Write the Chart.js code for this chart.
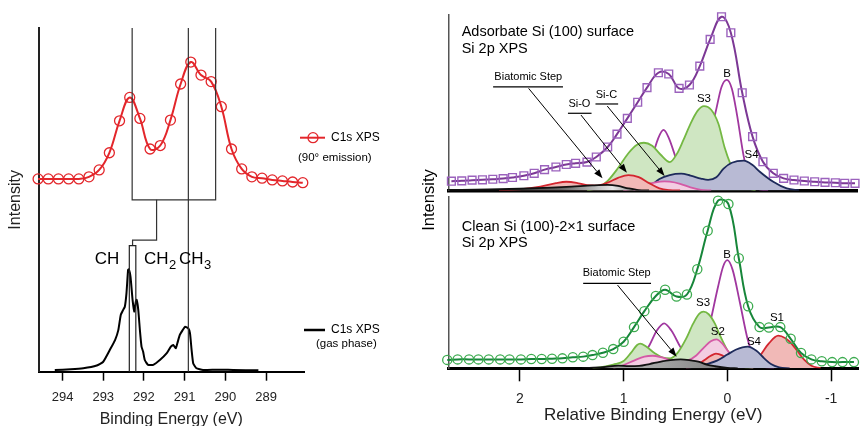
<!DOCTYPE html>
<html>
<head>
<meta charset="utf-8">
<script src="https://cdn.jsdelivr.net/npm/chart.js@4/dist/chart.umd.min.js"></script>
<style>
html,body{margin:0;padding:0;background:#fff;overflow:hidden;width:864px;height:426px;}
canvas{position:absolute;}
#cL{left:0;top:0;}
#cBR{left:420px;top:190px;}
#cTR{left:420px;top:0;}
</style>
</head>
<body>
<canvas id="cL" width="420" height="426"></canvas>
<canvas id="cBR" width="444" height="236"></canvas>
<canvas id="cTR" width="444" height="426"></canvas>
<script>
// ---------------- LEFT PANEL DATA (C1s XPS) ----------------
const leftTickValues = [289, 290, 291, 292, 293, 294];
const c1sEmissionEnergy = [294.6, 294.35, 294.1, 293.85, 293.6, 293.35, 293.1, 292.85, 292.6, 292.35, 292.1, 291.85, 291.6, 291.35, 291.1, 290.85, 290.6, 290.35, 290.1, 289.85, 289.6, 289.35, 289.1, 288.85, 288.6, 288.35, 288.1];
const c1sEmissionIntensity = [56.1, 56.1, 56.1, 56.1, 56.1, 56.7, 58.7, 63.7, 73.0, 79.8, 73.7, 64.8, 65.8, 73.2, 83.7, 90.1, 86.3, 84.4, 77.1, 64.8, 59.0, 56.7, 56.3, 55.8, 55.5, 55.2, 55.0];
const gasEnergy = [294.19, 293.8, 293.49, 293.16, 293.00, 292.84, 292.71, 292.63, 292.57, 292.51, 292.47, 292.43, 292.39, 292.37, 292.33, 292.28, 292.24, 292.20, 292.18, 292.14, 292.10, 292.06, 292.02, 291.98, 291.90, 291.77, 291.61, 291.44, 291.34, 291.28, 291.22, 291.18, 291.12, 291.05, 290.99, 290.91, 290.87, 290.83, 290.79, 290.71, 290.55, 290.2, 289.81, 289.19];
const gasIntensity = [0.5, 0.7, 1.0, 1.8, 2.9, 6.3, 9.2, 12.1, 16.5, 18.0, 18.9, 22.8, 29.6, 29.8, 27.6, 20.9, 17.5, 20.4, 20.9, 18.0, 12.1, 7.3, 5.8, 3.4, 2.0, 2.0, 3.4, 5.4, 7.3, 7.8, 6.8, 8.3, 10.7, 12.1, 13.1, 12.6, 11.2, 6.3, 2.4, 1.0, 0.5, 0.6, 0.5, 0.4];
// peak-assignment guide lines (energy, intensity)
const guideEnergies = [292.29, 290.24, 290.91, 291.69, 292.28, 292.36, 292.20];
const guideLevels = [100, 50, 38.3, 36.7, 0];

// ---------------- RIGHT PANEL DATA (Si 2p XPS) ----------------
const rightTickValues = [-1, 0, 1, 2];
// Adsorbate surface: measured points
const adsEnergy = [2.66, 2.56, 2.46, 2.36, 2.26, 2.16, 2.07, 1.96, 1.86, 1.76, 1.65, 1.55, 1.46, 1.35, 1.26, 1.15, 1.06, 0.96, 0.86, 0.77, 0.66, 0.56, 0.46, 0.36, 0.26, 0.16, 0.05, -0.04, -0.15, -0.25, -0.35, -0.45, -0.55, -0.65, -0.75, -0.85, -0.95, -1.05, -1.14, -1.24];
const adsIntensity = [5.3, 5.5, 5.9, 6.1, 6.4, 6.8, 7.4, 8.4, 9.8, 11.9, 13.4, 14.8, 15.5, 16.2, 19.1, 24.8, 32.1, 41.1, 50.3, 58.6, 67.1, 66.4, 58.2, 60.1, 70.9, 86.1, 99.0, 89.9, 55.7, 30.7, 16.4, 9.8, 6.9, 6.0, 5.4, 5.0, 4.6, 4.4, 4.1, 4.1];
// Adsorbate components
const adsBEnergy = [0.90, 0.80, 0.72, 0.66, 0.61, 0.56, 0.50, 0.44, 0.38, 0.30, 0.22, 0.16, 0.11, 0.05, 0.0, -0.05, -0.10, -0.165, -0.22, -0.30, -0.40];
const adsBIntensity = [0, 5, 19, 30, 34.5, 30, 20, 9, 3, 4, 20, 33, 44, 59, 63, 58, 43, 19.3, 7, 1, 0];
const adsS3Energy = [1.35, 1.25, 1.15, 1.05, 0.95, 0.87, 0.80, 0.72, 0.64, 0.55, 0.48, 0.42, 0.35, 0.28, 0.22, 0.15, 0.08, 0.02, -0.04, -0.10, -0.18, -0.28];
const adsS3Intensity = [0, 1.5, 5.5, 12.8, 21.2, 25.9, 27.2, 25.5, 20.5, 16.2, 21.0, 28.5, 38.0, 45.5, 48.1, 46.0, 38.0, 24.5, 14.5, 7.0, 2.0, 0];
const adsS4Energy = [0.85, 0.75, 0.65, 0.55, 0.44, 0.35, 0.25, 0.18, 0.10, 0.03, -0.05, -0.165, -0.25, -0.32, -0.45, -0.58, -0.70];
const adsS4Intensity = [0, 2, 6.5, 8.8, 9.6, 8.5, 6.8, 6.0, 7.5, 12.5, 15.8, 17.0, 14.5, 10.7, 5.0, 1.2, 0];
const adsSiCEnergy = [1.0, 0.9, 0.8, 0.7, 0.6, 0.55, 0.45, 0.35, 0.25, 0.15];
const adsSiCIntensity = [0, 1.2, 3.0, 4.5, 5.2, 5.0, 3.8, 1.8, 0.4, 0];
const adsSiOEnergy = [2.2, 2.0, 1.8, 1.65, 1.55, 1.45, 1.35, 1.25, 1.15, 1.05, 0.95, 0.85, 0.75, 0.65, 0.55, 0.45];
const adsSiOIntensity = [0, 0.6, 2.2, 4.2, 5.0, 4.4, 3.0, 2.8, 4.5, 7.2, 8.8, 7.6, 4.2, 1.2, 0.2, 0];
const adsStepEnergy = [2.7, 2.3, 2.0, 1.7, 1.5, 1.3, 1.15, 1.05, 0.95, 0.85, 0.75];
const adsStepIntensity = [0.3, 0.6, 1.0, 1.6, 2.2, 2.9, 3.2, 2.6, 1.2, 0.2, 0];

// Clean surface: measured points
const cleanEnergy = [2.70, 2.60, 2.49, 2.40, 2.30, 2.19, 2.10, 1.99, 1.89, 1.79, 1.69, 1.59, 1.49, 1.39, 1.30, 1.20, 1.10, 1.00, 0.90, 0.80, 0.69, 0.60, 0.49, 0.39, 0.29, 0.19, 0.09, -0.01, -0.11, -0.20, -0.31, -0.40, -0.51, -0.61, -0.71, -0.81, -0.91, -1.01, -1.11, -1.22];
const cleanIntensity = [4.9, 5.2, 5.2, 5.2, 5.2, 5.2, 5.2, 5.2, 5.4, 5.4, 5.6, 5.8, 6.4, 6.8, 7.7, 9.1, 11.2, 15.5, 24.0, 33.3, 42.1, 45.8, 41.8, 43.0, 57.7, 80.2, 97.7, 95.7, 64.1, 36.2, 24.0, 23.8, 24.0, 17.2, 8.9, 5.2, 4.1, 3.6, 3.6, 3.6];
// Clean components
const cleanBEnergy = [0.95, 0.85, 0.75, 0.68, 0.61, 0.54, 0.455, 0.38, 0.30, 0.22, 0.155, 0.09, 0.04, 0.0, -0.05, -0.12, -0.196, -0.26, -0.35, -0.45];
const cleanBIntensity = [0.5, 4.5, 13.6, 22, 26.2, 22, 12.6, 5, 4, 12, 29.5, 47.5, 59.5, 63, 57.5, 38.5, 16.8, 6, 1, 0];
const cleanS3Energy = [1.30, 1.20, 1.10, 1.00, 0.93, 0.87, 0.84, 0.78, 0.70, 0.62, 0.55, 0.48, 0.40, 0.33, 0.27, 0.23, 0.18, 0.12, 0.07, 0.0, -0.08, -0.15, -0.25];
const cleanS3Intensity = [0, 0.8, 2.2, 4.2, 9.0, 13.6, 14.4, 12.5, 8.8, 6.2, 5.8, 9.0, 17.0, 26.0, 31.8, 33.0, 31.5, 26.0, 19.0, 10.5, 4.0, 1.0, 0];
const cleanS2Energy = [1.10, 1.00, 0.90, 0.80, 0.72, 0.64, 0.55, 0.455, 0.38, 0.30, 0.22, 0.16, 0.105, 0.05, -0.01, -0.06, -0.105, -0.16, -0.25];
const cleanS2Intensity = [0, 1.9, 4.5, 6.8, 7.3, 6.5, 4.8, 3.9, 4.6, 7.5, 12.5, 15.8, 16.9, 14.5, 9.7, 6.2, 3.9, 1.5, 0];
const cleanS1Energy = [0.40, 0.30, 0.22, 0.16, 0.11, 0.05, -0.02, -0.10, -0.18, -0.25, -0.32, -0.40, -0.49, -0.56, -0.60, -0.67, -0.74, -0.81, -0.90];
const cleanS1Intensity = [0, 1.5, 4.8, 7.3, 8.5, 7.5, 4.5, 1.5, 0.8, 2.0, 7.75, 14.5, 19.0, 17.5, 15.5, 10.5, 5.0, 1.5, 0];
const cleanS4Energy = [0.40, 0.30, 0.20, 0.10, 0.0, -0.08, -0.196, -0.28, -0.355, -0.42, -0.50, -0.60];
const cleanS4Intensity = [0, 1.0, 2.5, 4.5, 8.0, 10.8, 12.6, 10.2, 5.8, 2.5, 0.6, 0];
const cleanStepEnergy = [1.40, 1.20, 1.05, 0.95, 0.85, 0.75, 0.65, 0.55, 0.45, 0.35, 0.28, 0.20, 0.12, 0.0, -0.10];
const cleanStepIntensity = [0, 0.6, 1.6, 1.3, 1.4, 2.5, 3.8, 4.8, 5.2, 4.6, 3.9, 2.2, 1.2, 0.2, 0];

// ---------------- helpers ----------------
const FONT = "'Liberation Sans', Arial, Helvetica, sans-serif";
Chart.defaults.font.family = FONT;
Chart.defaults.color = '#222';
const pairs = (xs, ys) => xs.map((x, i) => ({x: x, y: ys[i]}));

function overlay(id, items) {
  return {
    id: id,
    afterDatasetsDraw(chart) {
      const ctx = chart.ctx, sx = chart.scales.x, sy = chart.scales.y;
      const pt = (p, px) => px ? p : [sx.getPixelForValue(p[0]), sy.getPixelForValue(p[1])];
      items.forEach(it => {
        ctx.save();
        ctx.strokeStyle = it.color || '#000';
        ctx.fillStyle = it.color || '#000';
        ctx.lineWidth = it.width || 1;
        if (it.kind === 'path') {
          ctx.beginPath();
          it.pts.forEach((p, i) => { const q = pt(p, it.px); if (i) ctx.lineTo(q[0], q[1]); else ctx.moveTo(q[0], q[1]); });
          ctx.stroke();
        } else if (it.kind === 'arrow') {
          const a1 = pt(it.from, it.px), a2 = pt(it.to, it.px);
          const a = Math.atan2(a2[1] - a1[1], a2[0] - a1[0]), L = 9, W = 3.3;
          const bx = a2[0] - L * Math.cos(a), by = a2[1] - L * Math.sin(a);
          ctx.beginPath(); ctx.moveTo(a1[0], a1[1]); ctx.lineTo(bx, by); ctx.stroke();
          ctx.beginPath(); ctx.moveTo(a2[0], a2[1]);
          ctx.lineTo(bx - W * Math.sin(a), by + W * Math.cos(a));
          ctx.lineTo(bx + W * Math.sin(a), by - W * Math.cos(a));
          ctx.closePath(); ctx.fill();
        } else if (it.kind === 'text') {
          const q = pt(it.at, it.px);
          ctx.font = it.size + 'px ' + FONT;
          ctx.textAlign = it.align || 'center';
          ctx.textBaseline = 'middle';
          ctx.translate(q[0], q[1]);
          if (it.rotate) ctx.rotate(it.rotate);
          ctx.fillText(it.text, 0, 0);
        } else if (it.kind === 'chem') {
          const q = pt(it.at, it.px);
          let x = q[0];
          ctx.textAlign = 'left'; ctx.textBaseline = 'middle';
          it.parts.forEach(part => {
            ctx.font = (part.sub ? it.subSize : it.size) + 'px ' + FONT;
            ctx.fillText(part.t, x, q[1] + (part.sub ? it.subShift : 0));
            x += ctx.measureText(part.t).width + 0.5;
          });
        } else if (it.kind === 'circle') {
          const q = pt(it.at, it.px);
          ctx.beginPath(); ctx.arc(q[0], q[1], it.r, 0, Math.PI * 2); ctx.stroke();
        }
        ctx.restore();
      });
    }
  };
}

function stepGradient(stops) {
  return function (c) {
    const ch = c.chart;
    if (!ch.chartArea || !ch.scales.x) return stops[1][1];
    const x0 = ch.scales.x.getPixelForValue(stops[0][0]);
    const x1 = ch.scales.x.getPixelForValue(stops[stops.length - 1][0]);
    const g = ch.ctx.createLinearGradient(x0, 0, x1, 0);
    stops.forEach(s => g.addColorStop((ch.scales.x.getPixelForValue(s[0]) - x0) / (x1 - x0), s[1]));
    return g;
  };
}

function comp(label, xs, ys, line, fill, order) {
  return { label: label, data: pairs(xs, ys), borderColor: line, backgroundColor: fill,
           fill: fill ? 'origin' : false, borderWidth: 1.8, pointRadius: 0,
           cubicInterpolationMode: 'monotone', order: order };
}

const baseOpts = { responsive: false, animation: false, devicePixelRatio: 1,
  plugins: { legend: { display: false }, tooltip: { enabled: false } } };

// ---------------- LEFT CHART ----------------
const gL = guideEnergies, lv = guideLevels;
new Chart(document.getElementById('cL'), {
  type: 'line',
  data: { datasets: [
    { label: 'C1s XPS (90° emission)', data: pairs(c1sEmissionEnergy, c1sEmissionIntensity),
      borderColor: '#e3262b', borderWidth: 2, tension: 0.4, pointRadius: 5, pointBorderWidth: 1.3,
      pointBorderColor: '#e3262b', pointBackgroundColor: 'rgba(255,255,255,0)', clip: false },
    { label: 'C1s XPS (gas phase)', data: pairs(gasEnergy, gasIntensity),
      borderColor: '#000', borderWidth: 2, tension: 0.15, pointRadius: 0 }
  ]},
  options: Object.assign({}, baseOpts, {
    layout: { padding: { left: 0, top: 28, right: 116, bottom: 0 } },
    scales: {
      x: { type: 'linear', reverse: true, min: 288.07, max: 294.59,
        afterBuildTicks: s => { s.ticks = leftTickValues.map(v => ({ value: v })); },
        afterFit: s => { s.height = 54.3; },
        ticks: { font: { size: 13 }, color: '#222', padding: 9 },
        grid: { display: true, drawOnChartArea: false, drawTicks: true, tickLength: 9, tickColor: '#000', tickWidth: 1.5 },
        border: { display: true, color: '#000', width: 2 },
        title: { display: true, text: 'Binding Energy (eV)', font: { size: 16, lineHeight: 1 }, color: '#222', padding: { top: 0, bottom: -2 } } },
      y: { min: 0, max: 100, ticks: { display: false }, grid: { display: false },
        border: { display: true, color: '#222', width: 2 },
        afterFit: s => { s.width = 38.5; },
        title: { display: true, text: 'Intensity', font: { size: 16, lineHeight: 1 }, color: '#222', padding: { top: 8, bottom: 0 } } }
    }
  }),
  plugins: [overlay('leftNotes', [
    { kind: 'path', color: '#333', width: 1.2, pts: [[gL[0], lv[0]], [gL[0], lv[1]], [gL[1], lv[1]], [gL[1], lv[0]]] },
    { kind: 'path', color: '#333', width: 1.2, pts: [[gL[2], lv[0]], [gL[2], lv[4]]] },
    { kind: 'path', color: '#333', width: 1.2, pts: [[gL[3], lv[1]], [gL[3], lv[2]], [gL[4], lv[2]], [gL[4], lv[3]]] },
    { kind: 'path', color: '#222', width: 1.2, pts: [[gL[5], lv[4]], [gL[5], lv[3]], [gL[6], lv[3]], [gL[6], lv[4]]] },
    { kind: 'text', px: true, at: [107, 259], text: 'CH', size: 17 },
    { kind: 'chem', px: true, at: [144, 259], size: 17, subSize: 13, subShift: 6.5, parts: [{ t: 'CH' }, { t: '2', sub: true }] },
    { kind: 'chem', px: true, at: [179, 259], size: 17, subSize: 13, subShift: 6.5, parts: [{ t: 'CH' }, { t: '3', sub: true }] },
    { kind: 'path', px: true, color: '#e3262b', width: 2, pts: [[300, 137.7], [325, 137.7]] },
    { kind: 'circle', px: true, color: '#e3262b', width: 1.3, at: [313, 137.7], r: 5 },
    { kind: 'text', px: true, at: [331, 137.7], text: 'C1s XPS', size: 12, align: 'left' },
    { kind: 'text', px: true, at: [298, 157.7], text: '(90° emission)', size: 11.5, align: 'left' },
    { kind: 'path', px: true, color: '#000', width: 2.5, pts: [[304, 330], [325, 330]] },
    { kind: 'text', px: true, at: [331, 330], text: 'C1s XPS', size: 12, align: 'left' },
    { kind: 'text', px: true, at: [316, 343.5], text: '(gas phase)', size: 11.5, align: 'left' }
  ])]
});

// ---------------- RIGHT TOP CHART (adsorbate) ----------------
new Chart(document.getElementById('cTR'), {
  type: 'line',
  data: { datasets: [
    { label: 'Adsorbate Si 2p', data: pairs(adsEnergy, adsIntensity), borderColor: '#7c3895', borderWidth: 2,
      tension: 0.4, pointStyle: 'rect', pointRadius: 5.5, pointBorderWidth: 1.4, pointBorderColor: '#9b62bd',
      pointBackgroundColor: 'rgba(255,255,255,0)', clip: false, order: 0 },
    comp('Biatomic Step', adsStepEnergy, adsStepIntensity, '#111', stepGradient([[2.7, '#222'], [1.6, '#666'], [1.1, '#e8e8e8'], [0.75, '#444']]), 1),
    comp('Si-O', adsSiOEnergy, adsSiOIntensity, '#d3262f', '#f1b9b7', 2),
    comp('Si-C', adsSiCEnergy, adsSiCIntensity, '#d45aa6', '#f3cde2', 3),
    comp('S4', adsS4Energy, adsS4Intensity, '#1d2a5a', '#b8bad4', 4),
    comp('S3', adsS3Energy, adsS3Intensity, '#74b843', '#cfe6c2', 5),
    comp('B', adsBEnergy, adsBIntensity, '#a0379f', null, 6)
  ]},
  options: Object.assign({}, baseOpts, {
    layout: { padding: { left: 0, top: 15, right: 0, bottom: 0 } },
    scales: {
      x: { type: 'linear', reverse: true, min: -1.26, max: 2.69,
        ticks: { display: false }, grid: { display: false },
        border: { display: true, color: '#000', width: 3.5 },
        afterFit: s => { s.height = 235.5; } },
      y: { min: 0, max: 100, ticks: { display: false }, grid: { display: false },
        border: { display: true, color: '#555', width: 1.5 },
        afterFit: s => { s.width = 28.3; } }
    }
  }),
  plugins: [overlay('topNotes', [
    { kind: 'text', px: true, at: [9, 200], text: 'Intensity', size: 16.5, rotate: -Math.PI / 2 },
    { kind: 'text', px: true, at: [41.7, 32.3], text: 'Adsorbate Si (100) surface', size: 14.5, align: 'left' },
    { kind: 'text', px: true, at: [41.7, 48.5], text: 'Si 2p XPS', size: 14.5, align: 'left' },
    { kind: 'text', at: [1.917, 64.5], text: 'Biatomic Step', size: 11 },
    { kind: 'path', width: 1.2, pts: [[2.257, 59.1], [1.582, 59.1]] },
    { kind: 'arrow', from: [1.914, 58.2], to: [1.20, 6.95] },
    { kind: 'text', at: [1.423, 49.1], text: 'Si-O', size: 11 },
    { kind: 'path', width: 1.2, pts: [[1.534, 44.0], [1.306, 44.0]] },
    { kind: 'arrow', from: [1.408, 43.0], to: [0.964, 10.1] },
    { kind: 'text', at: [1.162, 54.4], text: 'Si-C', size: 11 },
    { kind: 'path', width: 1.2, pts: [[1.268, 49.3], [1.049, 49.3]] },
    { kind: 'arrow', from: [1.154, 48.1], to: [0.60, 8.3] },
    { kind: 'text', at: [0.22, 52.0], text: 'S3', size: 11.5 },
    { kind: 'text', at: [-0.003, 66.4], text: 'B', size: 11.5 },
    { kind: 'text', at: [-0.24, 20.2], text: 'S4', size: 11.5 }
  ])]
});

// ---------------- RIGHT BOTTOM CHART (clean) ----------------
new Chart(document.getElementById('cBR'), {
  type: 'line',
  data: { datasets: [
    { label: 'Clean Si 2p', data: pairs(cleanEnergy, cleanIntensity), borderColor: '#17863a', borderWidth: 2,
      tension: 0.4, pointRadius: 4.6, pointBorderWidth: 1.3, pointBorderColor: '#3cab4f',
      pointBackgroundColor: 'rgba(255,255,255,0)', clip: false, order: 0 },
    comp('Biatomic Step', cleanStepEnergy, cleanStepIntensity, '#111', stepGradient([[1.4, '#888'], [0.8, '#aaa'], [0.45, '#999'], [-0.1, '#777']]), 1),
    comp('S4', cleanS4Energy, cleanS4Intensity, '#1d2a5a', '#b8bad4', 2),
    comp('S1', cleanS1Energy, cleanS1Intensity, '#d3262f', '#f1b9b7', 3),
    comp('S2', cleanS2Energy, cleanS2Intensity, '#d45aa6', '#f3cde2', 4),
    comp('S3', cleanS3Energy, cleanS3Intensity, '#74b843', '#cfe6c2', 5),
    comp('B', cleanBEnergy, cleanBIntensity, '#a0379f', null, 6)
  ]},
  options: Object.assign({}, baseOpts, {
    layout: { padding: { left: 0, top: 6.7, right: 0, bottom: 0 } },
    scales: {
      x: { type: 'linear', reverse: true, min: -1.26, max: 2.69,
        afterBuildTicks: s => { s.ticks = rightTickValues.map(v => ({ value: v })); },
        afterFit: s => { s.height = 57.7; },
        ticks: { font: { size: 14 }, color: '#222', padding: 9 },
        grid: { display: true, drawOnChartArea: false, drawTicks: true, tickLength: 13, tickColor: '#000', tickWidth: 1.5 },
        border: { display: true, color: '#000', width: 3 },
        title: { display: true, text: 'Relative Binding Energy (eV)', font: { size: 17, lineHeight: 1 }, color: '#222', padding: { top: 0, bottom: 2.5 } } },
      y: { min: 0, max: 100, ticks: { display: false }, grid: { display: false },
        border: { display: true, color: '#555', width: 1.5 },
        afterFit: s => { s.width = 28.3; } }
    }
  }),
  plugins: [overlay('bottomNotes', [
    { kind: 'text', px: true, at: [41.7, 36.7], text: 'Clean Si (100)-2×1 surface', size: 14.5, align: 'left' },
    { kind: 'text', px: true, at: [41.7, 53.3], text: 'Si 2p XPS', size: 14.5, align: 'left' },
    { kind: 'text', at: [1.067, 55.4], text: 'Biatomic Step', size: 11 },
    { kind: 'path', width: 1.2, pts: [[1.39, 49.5], [0.736, 49.5]] },
    { kind: 'arrow', from: [1.059, 48.5], to: [0.489, 6.8] },
    { kind: 'text', at: [0.235, 37.9], text: 'S3', size: 11.5 },
    { kind: 'text', at: [0.004, 66.4], text: 'B', size: 11.5 },
    { kind: 'text', at: [0.092, 21.3], text: 'S2', size: 11.5 },
    { kind: 'text', at: [-0.256, 15.5], text: 'S4', size: 11.5 },
    { kind: 'text', at: [-0.478, 29.5], text: 'S1', size: 11.5 }
  ])]
});
</script>
</body>
</html>
